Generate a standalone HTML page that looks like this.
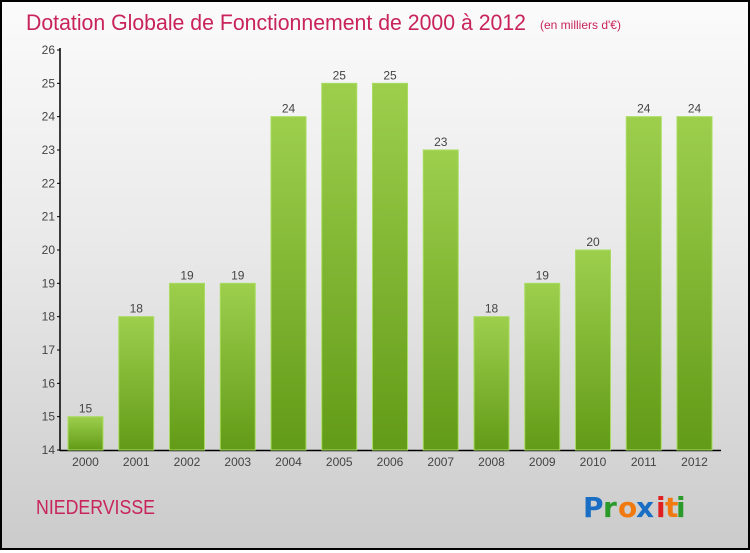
<!DOCTYPE html>
<html><head><meta charset="utf-8"><style>
body{margin:0;width:750px;height:550px;overflow:hidden;font-family:"Liberation Sans",sans-serif}
#c{position:absolute;left:0;top:0;width:746px;height:546px;border:2px solid #000;background:linear-gradient(#fbfbfb,#e9e9e9 45%,#cbcbcb)}
</style></head><body>
<div id="c">
<svg width="746" height="546" viewBox="2 2 746 546" id="svg">
<defs><linearGradient id="g" x1="0" y1="0" x2="0" y2="1"><stop offset="0" stop-color="#9dcf4d"/><stop offset="1" stop-color="#629b17"/></linearGradient></defs>
<text x="26" y="30" font-size="22" fill="#c8245a" textLength="500" lengthAdjust="spacingAndGlyphs">Dotation Globale de Fonctionnement de 2000 à 2012</text>
<text x="540" y="29" font-size="12" fill="#c8245a">(en milliers d'€)</text>
<g id="axes"></g><g id="bars"></g>
<text x="36" y="514" font-size="20" fill="#c8245a" textLength="119" lengthAdjust="spacingAndGlyphs">NIEDERVISSE</text>
<g font-size="28" font-weight="bold" font-family="'DejaVu Sans',sans-serif">
<text x="583" y="517" fill="#1a6fc4">P</text><text x="603" y="517" fill="#2a9a2a">r</text><text x="618" y="517" fill="#f07a10">o</text><text x="636" y="517" fill="#1a6fc4">x</text><text x="656" y="517" fill="#e02020">i</text><text x="665" y="517" fill="#f07a10">t</text><text x="676" y="517" fill="#2a9a2a">i</text></g>
</svg></div>
<script>
const years=["2000","2001","2002","2003","2004","2005","2006","2007","2008","2009","2010","2011","2012"];
const values=[15,18,19,19,24,25,25,23,18,19,20,24,24];
const yTicks=[14,15,16,17,18,19,20,21,22,23,24,25,26];
const NS="http://www.w3.org/2000/svg";
const y=v=>450-(v-14)*(400/12);
const x=i=>85.5+i*50.75;
function mk(t,a,p){const e=document.createElementNS(NS,t);for(const k in a)e.setAttribute(k,a[k]);p.appendChild(e);return e;}
const ax=document.getElementById('axes'),bg=document.getElementById('bars');
const yl=mk('line',{x1:60,y1:48,x2:60,y2:451,stroke:'#000','stroke-width':1.5},ax);


const xl=mk('line',{x1:60,y1:450.5,x2:721,y2:450.5,stroke:'#000','stroke-width':1.5},ax);


yTicks.forEach(v=>{
 mk('line',{x1:57,x2:60,y1:y(v),y2:y(v),stroke:'#000'},ax);
 const t=mk('text',{x:55,y:y(v)+4,'font-size':12,fill:'#444','text-anchor':'end'},ax);t.textContent=v;
 
 
});
values.forEach((v,i)=>{
 const r=mk('rect',{x:x(i)-17.5,y:y(v),width:35,height:450-y(v),fill:'url(#g)',stroke:'#a8dc60','stroke-width':1},bg);
 
 
 const l=mk('text',{x:x(i),y:y(v)-4,'font-size':12,fill:'#444','text-anchor':'middle'},bg);l.textContent=v;
 
 
 const yt=mk('text',{x:x(i),y:466,'font-size':12,fill:'#444','text-anchor':'middle'},bg);yt.textContent=years[i];
 
 
});
</script></body></html>
